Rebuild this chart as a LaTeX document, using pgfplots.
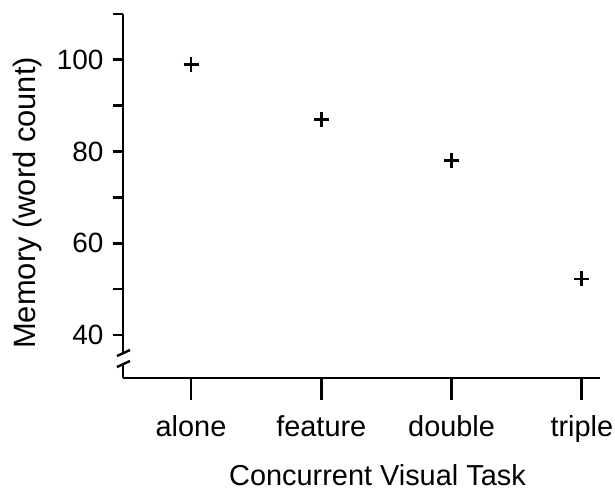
\documentclass[border=0pt]{standalone}
\usepackage{pgfplots}
\pgfplotsset{compat=1.18}
\usepackage{fontspec}
\setmainfont{Liberation Sans}
\pgfplotsset{common/.style={
  scale only axis, width=477bp, height=364bp,
  xmin=-0.522, xmax=3.139, ymin=30.6, ymax=110,
  axis lines*=left,
  axis line style={line width=2.8bp, black},
  tick style={line width=2.8bp, black},
  tick align=outside,
  font=\fontsize{29}{34}\selectfont,
  /pgf/number format/assume math mode=true,
  clip=false,
}}
\begin{document}
\begin{tikzpicture}
\path[use as bounding box] (-123bp,-112bp) rectangle (492bp,378bp);
\begin{axis}[common,
  major tick length=22bp,
  xtick={0,1,2,3},
  xticklabels={alone,feature,double,triple},
  xticklabel style={yshift=-12bp},
  ytick=\empty,
  y axis line style={draw=none},
  xlabel={Concurrent Visual Task},
  xlabel style={at={(rel axis cs:0.5335,0)}, anchor=base, yshift=-107bp},
]
\addplot[only marks, mark=+, mark size=7.5bp, line width=2.8bp, black]
  coordinates {(0,99) (1,87) (2,78) (3,52.2)};
\end{axis}
\begin{axis}[common,
  major tick length=10bp,
  xtick=\empty,
  ytick={40,50,60,70,80,90,100,110},
  yticklabels={40,,60,,80,,100,},
  yticklabel style={font=\fontsize{28}{33}\selectfont, xshift=-6bp},
  x axis line style={draw=none},
  y axis line style={draw=none},
  ylabel={Memory (word count)},
  ylabel style={font=\fontsize{31}{36}\selectfont, at={(rel axis cs:0,0.481)}, anchor=center, yshift=95.5bp},
]
\draw[line width=2.8bp] ([yshift=25bp]rel axis cs:0,0) -- (rel axis cs:0,1);
\draw[line width=2.8bp] (rel axis cs:0,0) -- ([yshift=14bp]rel axis cs:0,0);
\draw[line width=2.4bp] ([xshift=-6bp,yshift=22bp]rel axis cs:0,0) -- ([xshift=7bp,yshift=28bp]rel axis cs:0,0);
\draw[line width=2.4bp] ([xshift=-6bp,yshift=11bp]rel axis cs:0,0) -- ([xshift=7bp,yshift=17bp]rel axis cs:0,0);
\end{axis}
\end{tikzpicture}
\end{document}
